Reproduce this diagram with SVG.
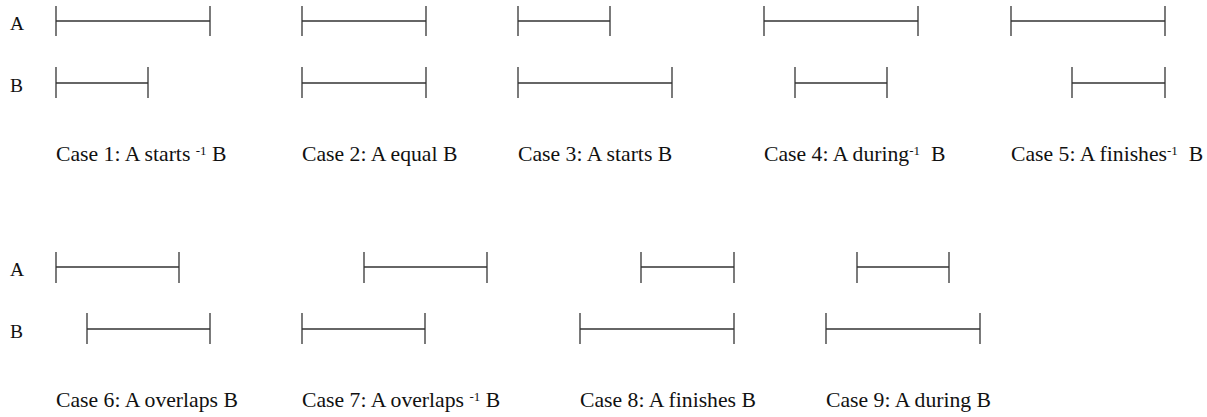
<svg xmlns="http://www.w3.org/2000/svg" width="1207" height="417" viewBox="0 0 1207 417">
<style>
text{font-family:'Liberation Serif','DejaVu Serif',serif;font-size:21.7px;fill:#111}
.lbl{font-size:19.5px}
.sup{font-size:13px}
line{stroke:#333;stroke-width:1.3}
</style>
<rect width="1207" height="417" fill="#fff"/>
<g id="labels">
<text class="lbl" x="10" y="30">A</text>
<text class="lbl" x="10" y="92">B</text>
<text class="lbl" x="10" y="276">A</text>
<text class="lbl" x="10" y="338">B</text>
</g>
<g id="case1">
<line x1="56" y1="21" x2="210" y2="21"/><line x1="56" y1="6" x2="56" y2="36"/><line x1="210" y1="6" x2="210" y2="36"/>
<line x1="56" y1="83" x2="148" y2="83"/><line x1="56" y1="67" x2="56" y2="98"/><line x1="148" y1="67" x2="148" y2="98"/>
<text x="56" y="161" xml:space="preserve">Case 1: A starts <tspan class="sup" dy="-6">-1</tspan><tspan dy="6"> B</tspan></text>
</g>
<g id="case2">
<line x1="302" y1="21" x2="426" y2="21"/><line x1="302" y1="6" x2="302" y2="36"/><line x1="426" y1="6" x2="426" y2="36"/>
<line x1="302" y1="83" x2="426" y2="83"/><line x1="302" y1="67" x2="302" y2="98"/><line x1="426" y1="67" x2="426" y2="98"/>
<text x="302" y="161">Case 2: A equal B</text>
</g>
<g id="case3">
<line x1="518" y1="21" x2="610" y2="21"/><line x1="518" y1="6" x2="518" y2="36"/><line x1="610" y1="6" x2="610" y2="36"/>
<line x1="518" y1="83" x2="672" y2="83"/><line x1="518" y1="67" x2="518" y2="98"/><line x1="672" y1="67" x2="672" y2="98"/>
<text x="518" y="161">Case 3: A starts B</text>
</g>
<g id="case4">
<line x1="764" y1="21" x2="918" y2="21"/><line x1="764" y1="6" x2="764" y2="36"/><line x1="918" y1="6" x2="918" y2="36"/>
<line x1="795" y1="83" x2="887" y2="83"/><line x1="795" y1="67" x2="795" y2="98"/><line x1="887" y1="67" x2="887" y2="98"/>
<text x="764" y="161" xml:space="preserve">Case 4: A during<tspan class="sup" dy="-6">-1</tspan><tspan dy="6">  B</tspan></text>
</g>
<g id="case5">
<line x1="1011" y1="21" x2="1165" y2="21"/><line x1="1011" y1="6" x2="1011" y2="36"/><line x1="1165" y1="6" x2="1165" y2="36"/>
<line x1="1072" y1="83" x2="1165" y2="83"/><line x1="1072" y1="67" x2="1072" y2="98"/><line x1="1165" y1="67" x2="1165" y2="98"/>
<text x="1011" y="161" xml:space="preserve">Case 5: A finishes<tspan class="sup" dy="-6">-1</tspan><tspan dy="6">  B</tspan></text>
</g>
<g id="case6">
<line x1="56" y1="267" x2="179" y2="267"/><line x1="56" y1="252" x2="56" y2="283"/><line x1="179" y1="252" x2="179" y2="283"/>
<line x1="87" y1="329" x2="210" y2="329"/><line x1="87" y1="313" x2="87" y2="344"/><line x1="210" y1="313" x2="210" y2="344"/>
<text x="56" y="407">Case 6: A overlaps B</text>
</g>
<g id="case7">
<line x1="364" y1="267" x2="487" y2="267"/><line x1="364" y1="252" x2="364" y2="283"/><line x1="487" y1="252" x2="487" y2="283"/>
<line x1="302" y1="329" x2="425" y2="329"/><line x1="302" y1="313" x2="302" y2="344"/><line x1="425" y1="313" x2="425" y2="344"/>
<text x="302" y="407" xml:space="preserve">Case 7: A overlaps <tspan class="sup" dy="-6">-1</tspan><tspan dy="6"> B</tspan></text>
</g>
<g id="case8">
<line x1="641" y1="267" x2="734" y2="267"/><line x1="641" y1="252" x2="641" y2="283"/><line x1="734" y1="252" x2="734" y2="283"/>
<line x1="580" y1="329" x2="734" y2="329"/><line x1="580" y1="313" x2="580" y2="344"/><line x1="734" y1="313" x2="734" y2="344"/>
<text x="580" y="407">Case 8: A finishes B</text>
</g>
<g id="case9">
<line x1="857" y1="267" x2="949" y2="267"/><line x1="857" y1="252" x2="857" y2="283"/><line x1="949" y1="252" x2="949" y2="283"/>
<line x1="826" y1="329" x2="980" y2="329"/><line x1="826" y1="313" x2="826" y2="344"/><line x1="980" y1="313" x2="980" y2="344"/>
<text x="826" y="407">Case 9: A during B</text>
</g>
</svg>
